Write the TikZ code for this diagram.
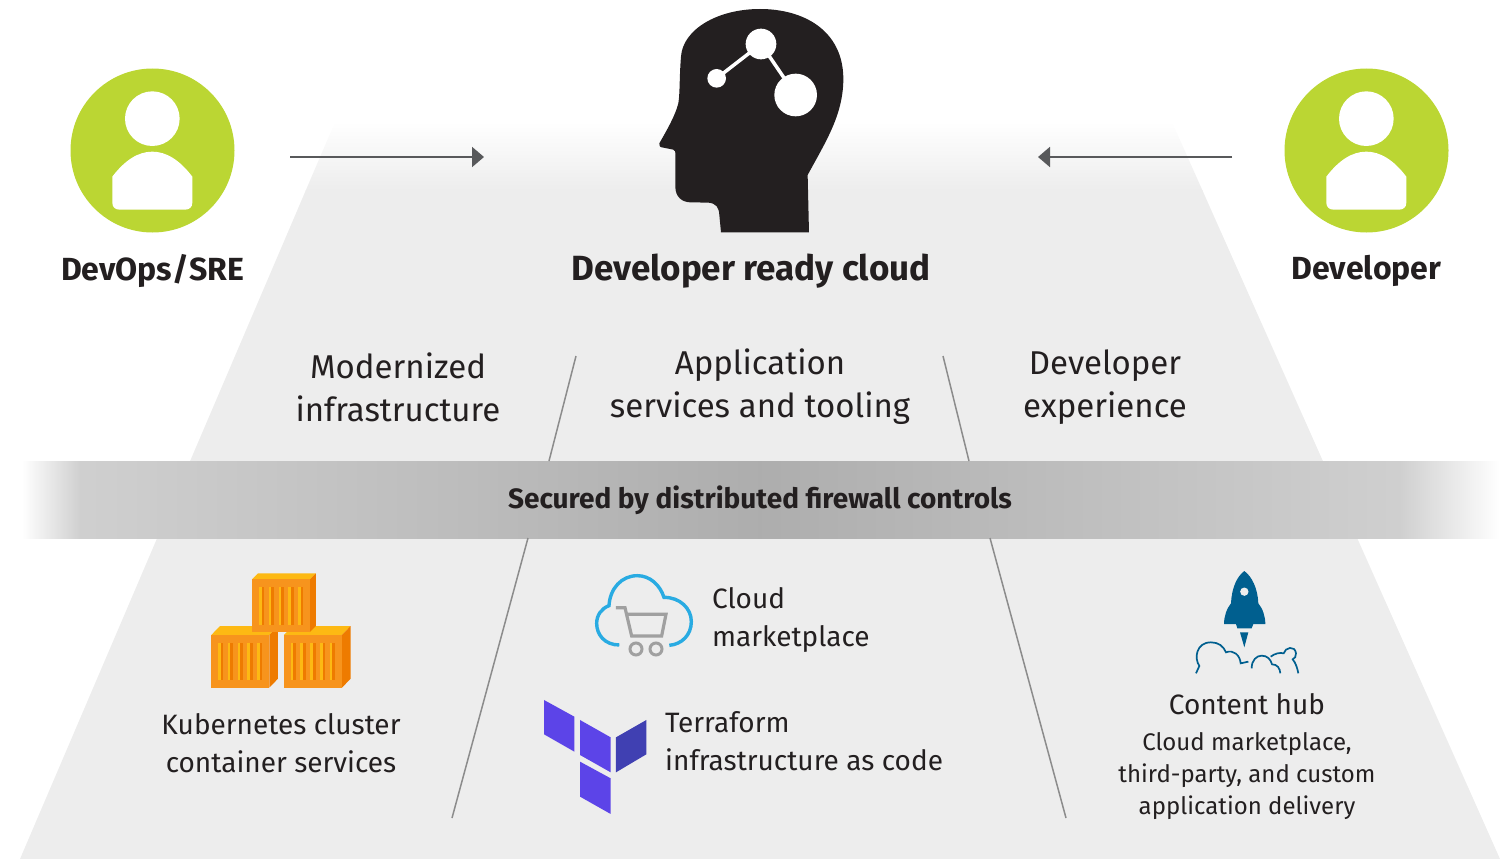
\documentclass[tikz,border=0pt]{standalone}
\usepackage{fontspec}
\setmainfont{Fira Sans}
\usetikzlibrary{arrows.meta}
\definecolor{panel}{HTML}{EDEDED}
\definecolor{ink}{HTML}{231F20}
\definecolor{lime}{HTML}{BBD633}
\definecolor{arrowgrey}{HTML}{58595B}
\definecolor{divider}{HTML}{8C8C8C}
\definecolor{boxfront}{HTML}{F7941D}
\definecolor{boxtop}{HTML}{FDB913}
\definecolor{boxside}{HTML}{EE7B00}
\definecolor{cloudblue}{HTML}{29ABE2}
\definecolor{cartgrey}{HTML}{A0A0A0}
\definecolor{tfa}{HTML}{5C44E8}
\definecolor{tfb}{HTML}{4040B2}
\definecolor{rocket}{HTML}{005F8F}
\tikzset{
  flow/.style={draw=arrowgrey,line width=2pt,-{Triangle[length=12pt,width=20pt]}},
  dividerline/.style={draw=divider,line width=1.5pt},
  person/.style={circle,fill=lime,minimum size=164pt,inner sep=0pt},
  title/.style={font=\fontsize{35}{40}\selectfont\bfseries,text=ink,inner sep=0pt},
  role/.style={font=\fontsize{32}{38}\selectfont\bfseries,text=ink,inner sep=0pt},
  pillar/.style={font=\fontsize{33}{43}\selectfont,text=ink,align=center,inner sep=0pt},
  item/.style={font=\fontsize{28}{38}\selectfont,text=ink,align=left,inner sep=0pt},
  itemc/.style={font=\fontsize{28}{38}\selectfont,text=ink,align=center,inner sep=0pt},
  small/.style={font=\fontsize{24}{32}\selectfont,text=ink,align=center,inner sep=0pt},
}
\newcommand{\cratebox}[5]{% x y dx dy firstStripe
  \fill[boxtop] (#1,#2) -- ++(#3,-#4) -- ++(174,0) -- ++(-#3,#4) -- cycle;
  \fill[boxside] (#1+174,#2) -- ++(#3,-#4) -- ++(0,158) -- ++(-#3,#4) -- cycle;
  \fill[boxfront] (#1,#2) rectangle ++(174,158);
  \foreach \s in {0,29.5,59,88.5,117}{
    \fill[boxtop] (#5+\s,#2+24) rectangle ++(8,112);
    \fill[boxside] (#5+\s+8,#2+24) rectangle ++(8,112);
  }
}
\newcommand{\personglyph}[1]{%
  \begin{scope}[shift={(#1,60)},x=.3333pt,y=-.3333pt]
    \fill[white] (307,176) circle[radius=82];
    \fill[white] (187,350) .. controls (225,300) and (265,275) .. (307,275)
      .. controls (349,275) and (389,300) .. (427,350) -- (427,428)
      .. controls (427,442) and (418,449) .. (405,449) -- (209,449)
      .. controls (196,449) and (187,442) .. (187,428) -- cycle;
  \end{scope}}
\begin{document}
\begin{tikzpicture}[x=1pt,y=-1pt]
\useasboundingbox (0,0) rectangle (1509,859);
% panel
\begin{scope}
  \clip (20,859) -- (335,122) -- (1172,122) -- (1500,859) -- cycle;
  \fill[panel] (0,190) rectangle (1509,859);
  \shade[top color=white,bottom color=panel] (0,122) rectangle (1509,190);
\end{scope}
% firewall band
\shade[left color=white,right color=white!80!black!90!panel] (22,461) rectangle (80,538);
\shade[left color=white!80!black!90!panel,right color=black!32] (80,461) rectangle (760,538);
\shade[left color=black!32,right color=white!80!black!90!panel] (760,461) rectangle (1400,538);
\shade[left color=white!80!black!90!panel,right color=white] (1400,461) rectangle (1500,538);
% dividers
\coordinate (d1a) at (576,356); \coordinate (d1b) at (549,461);
\coordinate (d2a) at (528,538); \coordinate (d2b) at (452,818);
\coordinate (d3a) at (943,356); \coordinate (d3b) at (969,461);
\coordinate (d4a) at (990,538); \coordinate (d4b) at (1066,818);
\draw[dividerline] (d1a) -- (d1b);
\draw[dividerline] (d2a) -- (d2b);
\draw[dividerline] (d3a) -- (d3b);
\draw[dividerline] (d4a) -- (d4b);
% people
\node[person] (devops) at (152.5,150.5) {};
\node[person] (developer) at (1366.5,150.5) {};
\personglyph{50}
\personglyph{1264}
% arrows
\coordinate (a1s) at (290,157); \coordinate (a1e) at (484,157);
\coordinate (a2s) at (1232,157); \coordinate (a2e) at (1038,157);
\draw[flow] (a1s) -- (a1e);
\draw[flow] (a2s) -- (a2e);
% head
\begin{scope}[shift={(640,0)},x=.3333pt,y=-.3333pt]
  \fill[ink] (243,697) -- (507,697) -- (503,525)
    .. controls (560,420) and (612,340) .. (610,230)
    .. controls (606,90) and (490,27) .. (360,27)
    .. controls (230,27) and (128,90) .. (123,170)
    .. controls (118,230) and (120,280) .. (115,310)
    .. controls (105,350) and (75,400) .. (58,430)
    .. controls (56,438) and (60,442) .. (70,443)
    -- (100,449) .. controls (106,451) and (106,455) .. (106,465)
    -- (106,560) .. controls (106,590) and (125,606) .. (150,607)
    -- (205,608) .. controls (228,610) and (237,622) .. (238,645) -- cycle;
  \draw[white,line width=3.5pt] (230,235) -- (363,132) -- (467,285);
  \fill[white] (230,235) circle[radius=28];
  \fill[white] (363,132) circle[radius=46];
  \fill[white] (467,285) circle[radius=64];
\end{scope}
% containers
\begin{scope}[shift={(190,560)},x=.3333pt,y=-.3333pt]
  \cratebox{64}{225}{26}{27}{84}
  \cratebox{282}{225}{26}{27}{302}
  \cratebox{186}{58}{18}{18}{207}
\end{scope}
% cloud and cart
\begin{scope}[shift={(530,565)},x=.3333pt,y=-.3333pt]
  \draw[cloudblue,line width=3.4pt] (268,240)
    .. controls (225,240) and (200,210) .. (200,175)
    .. controls (200,150) and (215,130) .. (237,122)
    .. controls (240,70) and (275,32) .. (322,32)
    .. controls (360,32) and (390,60) .. (402,97)
    .. controls (450,97) and (484,130) .. (484,170)
    .. controls (484,210) and (455,238) .. (418,241);
  \draw[cartgrey,line width=3.2pt] (258,128) -- (285,128) -- (305,213) -- (395,213) -- (408,148) -- (290,148);
  \draw[cartgrey,line width=3pt] (318,252) circle[radius=18];
  \draw[cartgrey,line width=3pt] (378,252) circle[radius=18];
\end{scope}
% terraform
\begin{scope}[shift={(530,565)},x=.3333pt,y=-.3333pt]
  \fill[tfa] (42,405) -- (133,455) -- (133,560) -- (42,508) -- cycle;
  \fill[tfa] (150,465) -- (242,517) -- (242,622) -- (150,570) -- cycle;
  \fill[tfa] (150,590) -- (242,640) -- (242,747) -- (150,695) -- cycle;
  \fill[tfb] (258,517) -- (349,465) -- (349,568) -- (258,622) -- cycle;
\end{scope}
% rocket
\begin{scope}[shift={(1180,560)},x=.3333pt,y=-.3333pt]
  \fill[rocket] (193,33) .. controls (170,50) and (155,85) .. (153,130)
    .. controls (140,145) and (132,170) .. (132,192) -- (168,192) -- (172,205) -- (215,205) -- (220,192) -- (256,192)
    .. controls (256,170) and (248,145) .. (235,130)
    .. controls (233,85) and (216,50) .. (193,33) -- cycle;
  \fill[panel] (193,95) circle[radius=12.5];
  \fill[rocket] (180,217) -- (205,217) -- (193,262) -- cycle;
  \draw[rocket,line width=1.7pt] (48,340) -- (58,318)
    .. controls (42,295) and (48,247) .. (93,247)
    .. controls (115,247) and (130,258) .. (138,277)
    .. controls (160,268) and (180,285) .. (182,310) -- (205,305);
  \draw[rocket,line width=1.7pt] (215,325)
    .. controls (215,300) and (230,287) .. (245,287)
    .. controls (262,287) and (272,298) .. (276,313)
    .. controls (292,313) and (300,325) .. (301,340);
  \draw[rocket,line width=1.7pt] (272,290)
    .. controls (285,280) and (300,277) .. (311,280)
    .. controls (315,262) and (345,255) .. (348,280)
    .. controls (348,290) and (345,295) .. (338,298)
    .. controls (348,310) and (352,325) .. (355,340);
\end{scope}
% texts
\node[role] (tdevops) at (152.5,271) {DevOps/SRE};
\node[role] (tdev) at (1366.5,271) {Developer};
\node[title] (ttitle) at (751,271) {Developer ready cloud};
\node[pillar] (p1) at (398,387) {Modernized\\infrastructure};
\node[pillar] (p2) at (760,387) {Application\\services and tooling};
\node[pillar] (p3) at (1105,387) {Developer\\experience};
\node[font=\fontsize{28}{34}\selectfont\bfseries,text=ink,inner sep=0pt] (fw) at (760,500) {Secured by distributed firewall controls};
\node[itemc] (k) at (281,743) {Kubernetes cluster\\container services};
\node[item,anchor=west] (cm) at (712,620) {Cloud\\marketplace};
\node[item,anchor=west] (tf) at (665,741) {Terraform\\infrastructure as code};
\node[itemc] (ch) at (1247,704) {Content hub};
\node[small] (chs) at (1247,776) {Cloud marketplace,\\third-party, and custom\\application delivery};
\end{tikzpicture}
\end{document}
